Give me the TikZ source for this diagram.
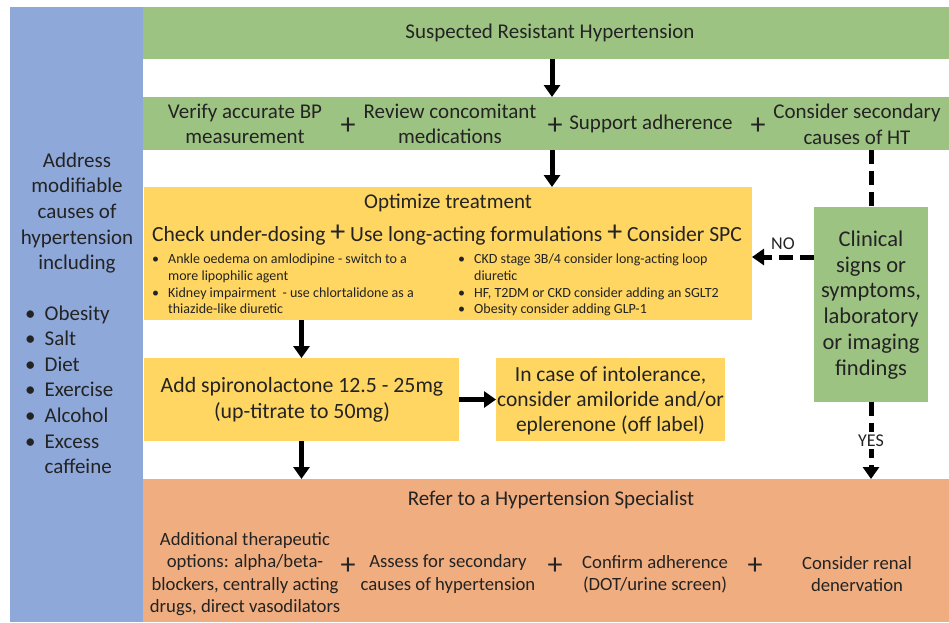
\documentclass[tikz,border=0pt]{standalone}
\usepackage{fontspec}
\setmainfont{Carlito}
\usetikzlibrary{arrows.meta}

\definecolor{boxgreen}{RGB}{157,195,131}
\definecolor{boxyellow}{RGB}{255,214,98}
\definecolor{boxblue}{RGB}{143,168,218}
\definecolor{boxorange}{RGB}{240,174,128}
\definecolor{inkgray}{RGB}{35,35,35}

\newcommand{\mainsize}{\fontsize{21}{25.6}\selectfont}
\newcommand{\boxsize}{\fontsize{21.8}{25.8}\selectfont}
\newcommand{\smallsize}{\fontsize{14}{16.7}\selectfont}
\newcommand{\lowsize}{\fontsize{18.7}{22.4}\selectfont}
\newcommand{\bigplus}{{\fontsize{30}{30}\selectfont +}}

\tikzset{
  panel/.style={fill=#1, inner sep=0pt, outer sep=0pt},
  txt/.style={text=inkgray, align=center, font=\mainsize, inner sep=0pt},
  boxtxt/.style={txt, font=\boxsize},
  smalltxt/.style={text=inkgray, align=left, font=\smallsize, inner sep=0pt},
  lowtxt/.style={text=inkgray, align=center, font=\lowsize, inner sep=0pt},
  plus/.style={text=inkgray, font=\fontsize{30}{30}\selectfont, inner sep=0pt},
  arr/.style={line width=5pt, -{Triangle[width=16pt,length=12pt]}},
  dashline/.style={line width=5pt, dash pattern=on 14pt off 7pt},
  dasharr/.style={dashline, -{Triangle[width=16pt,length=12pt]}},
}

\begin{document}
\begin{tikzpicture}[x=1pt,y=1pt]
  \useasboundingbox (0,0) rectangle (949,-622);

  % panels
  \node[panel=boxblue, minimum width=133pt, minimum height=615pt] (blue) at (76.5,-314.5) {};
  \node[panel=boxgreen, minimum width=806pt, minimum height=52pt] (top) at (546,-33) {};
  \node[panel=boxgreen, minimum width=806pt, minimum height=53pt] (row) at (546,-123.5) {};
  \node[panel=boxyellow, minimum width=608pt, minimum height=133pt] (opt) at (448,-253.5) {};
  \node[panel=boxgreen, minimum width=114pt, minimum height=195pt] (clin) at (871,-304.5) {};
  \node[panel=boxyellow, minimum width=315pt, minimum height=83pt] (spiro) at (301.5,-399.5) {};
  \node[panel=boxyellow, minimum width=229pt, minimum height=83pt] (intol) at (610.5,-399.5) {};
  \node[panel=boxorange, minimum width=806pt, minimum height=143pt] (orange) at (546,-550.5) {};

  % left column
  \node[txt] (addr) at (77,-213) {Address\\modifiable\\causes of\\hypertension\\including};
  \node[txt, align=left, anchor=north west] (causes) at (25,-302) {%
    \begin{tabular}{@{}l@{\hspace{9pt}}l@{}}
      \textbullet & Obesity\\
      \textbullet & Salt\\
      \textbullet & Diet\\
      \textbullet & Exercise\\
      \textbullet & Alcohol\\
      \textbullet & Excess\\
                  & caffeine
    \end{tabular}};

  % top rows
  \node[txt] (susp) at (550,-33) {Suspected Resistant Hypertension};
  \node[txt] (verify) at (245,-124) {Verify accurate BP\\measurement};
  \node[plus] (p1) at (348,-126) {+};
  \node[txt] (review) at (450,-124) {Review concomitant\\medications};
  \node[plus] (p2) at (555,-126) {+};
  \node[txt] (support) at (651,-124) {Support adherence};
  \node[plus] (p3) at (758,-126) {+};
  \node[txt] (second) at (857,-124) {Consider secondary\\causes of HT};

  % optimize treatment
  \node[txt] (optt) at (448,-203) {Optimize treatment};
  \node[txt, font=\fontsize{21.6}{25.6}\selectfont] (checks) at (447,-235) {Check under-dosing \bigplus{} Use long-acting formulations \bigplus{} Consider SPC};
  \node[smalltxt, anchor=north west] (leftlist) at (152,-252) {%
    \begin{tabular}{@{}l@{\hspace{9pt}}l@{}}
      \textbullet & Ankle oedema on amlodipine - switch to a\\
                  & more lipophilic agent\\
      \textbullet & Kidney impairment\ \ - use chlortalidone as a\\
                  & thiazide-like diuretic
    \end{tabular}};
  \node[smalltxt, anchor=north west] (rightlist) at (458,-252) {%
    \begin{tabular}{@{}l@{\hspace{9pt}}l@{}}
      \textbullet & CKD stage 3B/4 consider long-acting loop\\
                  & diuretic\\
      \textbullet & HF, T2DM or CKD consider adding an SGLT2\\
      \textbullet & Obesity consider adding GLP-1
    \end{tabular}};

  \node[boxtxt, font=\fontsize{22.5}{25.8}\selectfont] (clint) at (871,-305) {Clinical\\signs or\\symptoms,\\laboratory\\or imaging\\findings};
  \node[boxtxt] (spirot) at (302,-400) {Add spironolactone 12.5 - 25mg\\(up-titrate to 50mg)};
  \node[boxtxt, font=\fontsize{21.5}{25.2}\selectfont] (intolt) at (610.5,-401) {In case of intolerance,\\consider amiloride and/or\\eplerenone (off label)};

  % specialist
  \node[txt] (refer) at (551,-500) {Refer to a Hypertension Specialist};
  \node[lowtxt] (extra) at (245,-574) {Additional therapeutic\\options: alpha/beta-\\blockers, centrally acting\\drugs, direct vasodilators};
  \node[plus] (p4) at (348,-566) {+};
  \node[lowtxt] (assess) at (448,-574) {Assess for secondary\\causes of hypertension};
  \node[plus] (p5) at (555,-566) {+};
  \node[lowtxt] (confirm) at (655,-574) {Confirm adherence\\(DOT/urine screen)};
  \node[plus] (p6) at (755,-566) {+};
  \node[lowtxt] (renal) at (857,-574) {Consider renal\\denervation};

  % connectors
  \coordinate (midx) at (552,0);
  \coordinate (noy) at (0,-257);
  \draw[arr] (top.south -| midx) -- (row.north -| midx);
  \draw[arr] (row.south -| midx) -- (opt.north -| midx);
  \draw[arr] (opt.south -| spiro) -- (spiro.north);
  \draw[arr] (spiro.south) -- (orange.north -| spiro);
  \draw[arr] (spiro.east) -- (intol.west);
  \draw[dashline] (row.south -| clin) -- (clin.north);
  \draw[dasharr] (clin.west |- noy) -- node[above=5pt, text=inkgray, font=\fontsize{18}{18}\selectfont, inner sep=0pt] (no) {NO} (opt.east |- noy);
  \draw[dasharr] (clin.south) -- node[fill=white, text=inkgray, font=\fontsize{18}{18}\selectfont, inner sep=3pt] (yes) {YES} (orange.north -| clin);
\end{tikzpicture}
\end{document}
